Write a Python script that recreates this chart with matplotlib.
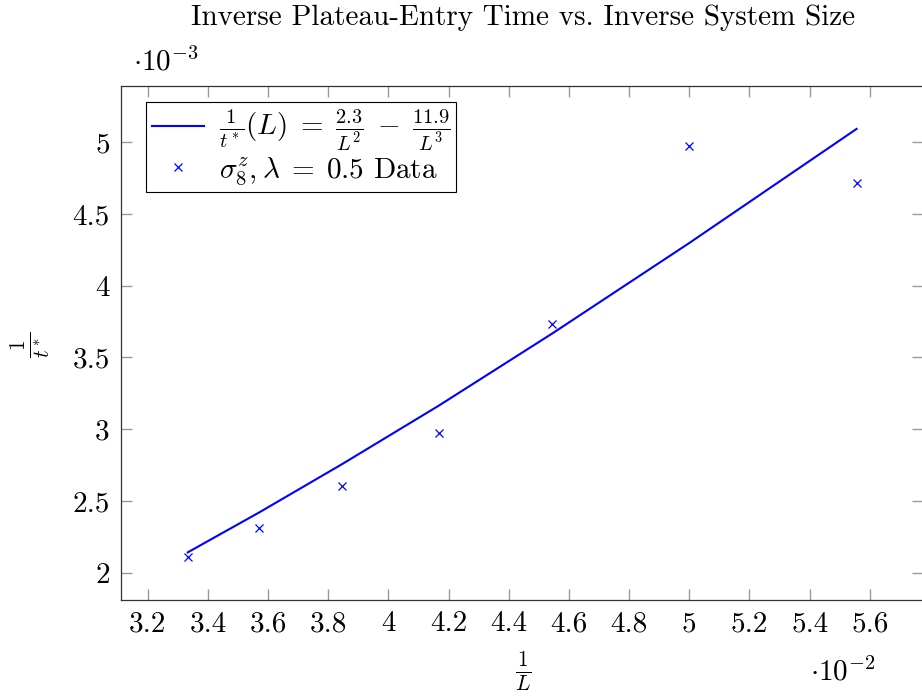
import matplotlib
matplotlib.use("Agg")
from matplotlib import pyplot as plt

plt.rcParams['font.family'] = 'serif'
plt.rcParams['font.serif'] = ['cmr10']
plt.rcParams['mathtext.fontset'] = 'cm'
plt.rcParams['axes.formatter.use_mathtext'] = True

# data (x in units of 1e-2, y in units of 1e-3)
inv_L = [3.333, 3.571, 3.846, 4.167, 4.545, 5.000, 5.556]
inv_t = [2.112, 2.309, 2.604, 2.976, 3.733, 4.974, 4.718]
# fitted curve at the same x
fit_t = [2.142, 2.421, 2.757, 3.164, 3.668, 4.298, 5.093]

x_ticks = [3.2, 3.4, 3.6, 3.8, 4.0, 4.2, 4.4, 4.6, 4.8, 5.0, 5.2, 5.4, 5.6]
x_labels = ['3.2', '3.4', '3.6', '3.8', '4', '4.2', '4.4', '4.6', '4.8', '5', '5.2', '5.4', '5.6']
y_ticks = [2.0, 2.5, 3.0, 3.5, 4.0, 4.5, 5.0]
y_labels = ['2', '2.5', '3', '3.5', '4', '4.5', '5']

fs = 21

fig = plt.figure(figsize=(9.22, 6.98), dpi=100)
ax = fig.add_axes([0.1312, 0.1408, 0.8703, 0.7364])

ax.plot(inv_L, fit_t, color='blue', lw=1.5,
        label=r'$\frac{1}{t^*}(L)\;=\;\frac{2.3}{L^2}\;-\;\frac{11.9}{L^3}$')
ax.plot(inv_L, inv_t, ls='none', marker='x', color='blue', ms=6, mew=0.9,
        label=r'$\sigma_8^z, \lambda\;=\;0.5$ Data')

ax.set_xlim(3.111, 5.778)
ax.set_ylim(1.812, 5.394)
ax.set_xticks(x_ticks)
ax.set_xticklabels(x_labels, fontsize=fs)
ax.set_yticks(y_ticks)
ax.set_yticklabels(y_labels, fontsize=fs)
ax.tick_params(direction='in', length=8, width=1.0, color='#999999',
               top=True, right=True, pad=8)
for s in ax.spines.values():
    s.set_linewidth(0.9)
    s.set_color('#333333')

leg = ax.legend(loc='upper left', bbox_to_anchor=(0.031, 0.968), fontsize=21,
                frameon=True, fancybox=False, framealpha=1, edgecolor='black',
                borderpad=0.2, handlelength=1.8, handletextpad=0.5,
                labelspacing=0.05, borderaxespad=0)
leg.get_frame().set_linewidth(0.8)

fig.text(0.567, 0.993, 'Inverse Plateau-Entry Time vs. Inverse System Size',
         fontsize=fs, ha='center', va='top')
fig.text(0.1443, 0.8997, r'$\cdot 10^{-3}$', fontsize=fs, ha='left', va='baseline')
fig.text(0.950, 0.0255, r'$\cdot 10^{-2}$', fontsize=fs, ha='right', va='baseline')
fig.text(0.567, 0.037, r'$\frac{1}{L}$', fontsize=22, ha='center', va='center')
fig.text(0.033, 0.506, r'$\frac{1}{t^*}$', fontsize=22, ha='center', va='center',
         rotation=90)

plt.savefig('out.png', dpi=100)
plt.close()
